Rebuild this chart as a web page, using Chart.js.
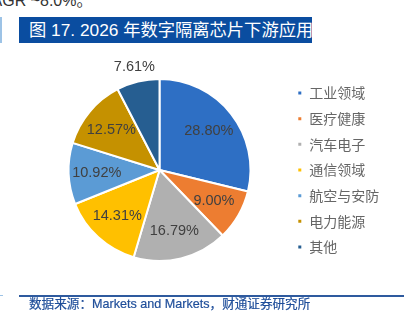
<!DOCTYPE html>
<html>
<head>
<meta charset="utf-8">
<script src="https://cdn.jsdelivr.net/npm/chart.js@4/dist/chart.umd.min.js"></script>
<style>
  html, body { margin: 0; padding: 0; background: #fff; }
  body { width: 408px; height: 324px; position: relative; overflow: hidden; font-family: "Liberation Sans", "Noto Sans CJK SC", sans-serif; }
  #prev { position: absolute; left: -20px; top: -7px; font-size: 16px; line-height: 16px; color: #333; white-space: nowrap; }
  #leftbar { position: absolute; left: 0; top: 17px; width: 2px; height: 26px; background: #9DC3E6; }
  #title { position: absolute; left: 19px; top: 17px; width: 293px; height: 26px; background: #0A4DA0; color: #fff;
           font-size: 17.3px; line-height: 26px; padding-left: 10px; box-sizing: border-box; white-space: nowrap; }
  #wrap { position: absolute; left: 0; top: 0; width: 408px; height: 324px; }
  #footline { position: absolute; left: 19px; top: 295px; width: 385px; height: 1.5px; background: #2E5A9E; }
  #footmark { position: absolute; left: 0; top: 295px; width: 3px; height: 1px; background: #9DC3E6; }
  #source { position: absolute; left: 29px; top: 296px; font-size: 12.6px; line-height: 16px; color: #1F4E9A; white-space: nowrap; -webkit-text-stroke: 0.2px #1F4E9A; }
</style>
</head>
<body>
<div id="prev">CAGR ~8.0%。</div>
<div id="leftbar"></div>
<div id="title">图 17. 2026 年数字隔离芯片下游应用</div>
<div id="wrap"><canvas id="c" width="408" height="324"></canvas></div>
<div id="footmark"></div>
<div id="footline"></div>
<div id="source">数据来源：Markets and Markets，财通证券研究所</div>
<script>
const categories = ["工业领域", "医疗健康", "汽车电子", "通信领域", "航空与安防", "电力能源", "其他"];
const shares = [28.80, 9.00, 16.79, 14.31, 10.92, 12.57, 7.61];
const sliceColors = ["#2E6FC4", "#ED7D31", "#B0B0B0", "#FFC000", "#5B9BD5", "#C59100", "#265E91"];

const labelPlugin = {
  id: "sliceLabels",
  afterDatasetsDraw(chart) {
    const ctx = chart.ctx;
    const meta = chart.getDatasetMeta(0);
    const vals = chart.data.datasets[0].data;
    const total = vals.reduce((a, b) => a + b, 0);
    ctx.save();
    ctx.font = "14.5px 'Liberation Sans', Arial, sans-serif";
    ctx.fillStyle = "#404040";
    ctx.textAlign = "center";
    ctx.textBaseline = "middle";
    meta.data.forEach((arc, i) => {
      const p = arc.getProps(["x", "y", "startAngle", "endAngle", "outerRadius"], true);
      const mid = (p.startAngle + p.endAngle) / 2;
      const frac = vals[i] / total;
      const r = frac < 0.08 ? p.outerRadius * 1.165 : p.outerRadius * 0.69;
      ctx.fillText(vals[i].toFixed(2) + "%", p.x + Math.cos(mid) * r, p.y + Math.sin(mid) * r);
    });
    ctx.restore();
  }
};

new Chart(document.getElementById("c"), {
  type: "pie",
  data: {
    labels: categories,
    datasets: [{
      data: shares,
      backgroundColor: sliceColors,
      borderColor: "#ffffff",
      borderWidth: 2,
      hoverOffset: 0,
      radius: 91
    }]
  },
  options: {
    responsive: false,
    animation: false,
    events: [],
    layout: { padding: { left: 33.4, right: 18.7, top: 55, bottom: 39 } },
    plugins: {
      tooltip: { enabled: false },
      legend: {
        position: "right",
        labels: {
          boxWidth: 5,
          boxHeight: 5,
          padding: 11.67,
          color: "#666666",
          font: { family: "'Noto Sans CJK SC', sans-serif", size: 14 }
        }
      }
    }
  },
  plugins: [labelPlugin]
});
</script>
</body>
</html>
